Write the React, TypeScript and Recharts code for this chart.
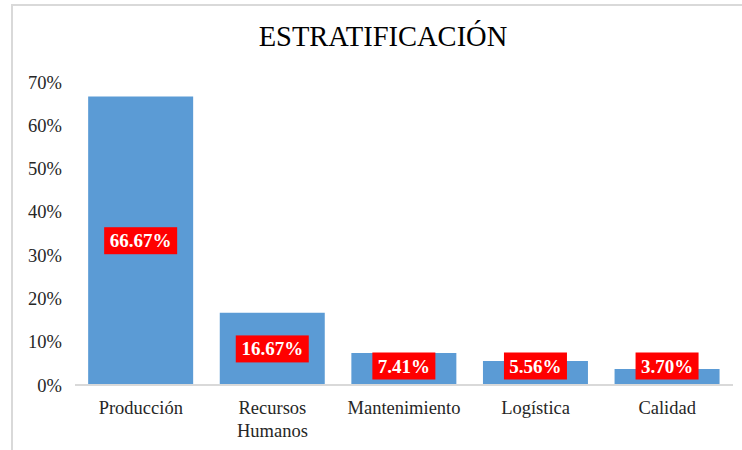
import React from "react";
import { BarChart, Bar, XAxis, YAxis, LabelList, Text } from "recharts";

const categories = ["Producción", "Recursos Humanos", "Mantenimiento", "Logística", "Calidad"];
const percentages = [66.67, 16.67, 7.41, 5.56, 3.7];
const yTicks = [0, 10, 20, 30, 40, 50, 60, 70];

const data = categories.map((name, i) => ({ name, value: percentages[i] }));

const FONT = "'Liberation Serif', 'Times New Roman', serif";

const ValueLabel = (props: any) => {
  const { x, y, width, height, value } = props;
  const text = `${Number(value).toFixed(2)}%`;
  const boxW = text.length * 10 + 13;
  const boxH = 27;
  const cx = x + width / 2;
  const cy = Math.min(y + height / 2, y + height - 19);
  return (
    <g>
      <rect x={cx - boxW / 2} y={cy - boxH / 2} width={boxW} height={boxH} fill="#ff0000" />
      <text
        x={cx}
        y={cy}
        textAnchor="middle"
        dominantBaseline="central"
        fill="#ffffff"
        fontFamily={FONT}
        fontWeight="bold"
        fontSize={19}
      >
        {text}
      </text>
    </g>
  );
};

const CategoryTick = (props: any) => {
  const { x, y, payload } = props;
  return (
    <Text
      x={x}
      y={y}
      width={110}
      textAnchor="middle"
      verticalAnchor="start"
      fontFamily={FONT}
      fontSize={18.5}
      fill="#262626"
      lineHeight={23}
    >
      {payload.value}
    </Text>
  );
};

export default function App() {
  return (
    <div
      style={{
        position: "absolute",
        left: 0,
        top: 0,
        width: 742,
        height: 450,
        background: "#ffffff",
        overflow: "hidden",
      }}
    >
      <div
        style={{
          position: "absolute",
          left: 11,
          top: 4,
          width: 760,
          height: 470,
          border: "2px solid #d9d9d9",
          boxSizing: "border-box",
        }}
      />
      <div
        style={{
          position: "absolute",
          left: 0,
          top: 21,
          width: 766,
          textAlign: "center",
          fontFamily: FONT,
          fontSize: 28.5,
          color: "#000000",
        }}
      >
        ESTRATIFICACIÓN
      </div>
      <div style={{ position: "absolute", left: 0, top: 0 }}>
        <BarChart
          width={742}
          height={450}
          data={data}
          margin={{ top: 82, right: 9, bottom: 35, left: 0 }}
          barCategoryGap="10%"
        >
          <YAxis
            width={75}
            domain={[0, 70]}
            ticks={yTicks}
            axisLine={false}
            tickLine={false}
            tickSize={0}
            tickMargin={13}
            tickFormatter={(v: number) => `${v}%`}
            tick={{ fontFamily: FONT, fontSize: 18.5, fill: "#262626" }}
          />
          <XAxis
            dataKey="name"
            height={30}
            axisLine={{ stroke: "#d9d9d9", strokeWidth: 2 }}
            tickLine={false}
            tickSize={0}
            tickMargin={16}
            interval={0}
            tick={<CategoryTick />}
          />
          <Bar dataKey="value" fill="#5b9bd5" isAnimationActive={false}>
            <LabelList dataKey="value" content={<ValueLabel />} />
          </Bar>
        </BarChart>
      </div>
    </div>
  );
}
